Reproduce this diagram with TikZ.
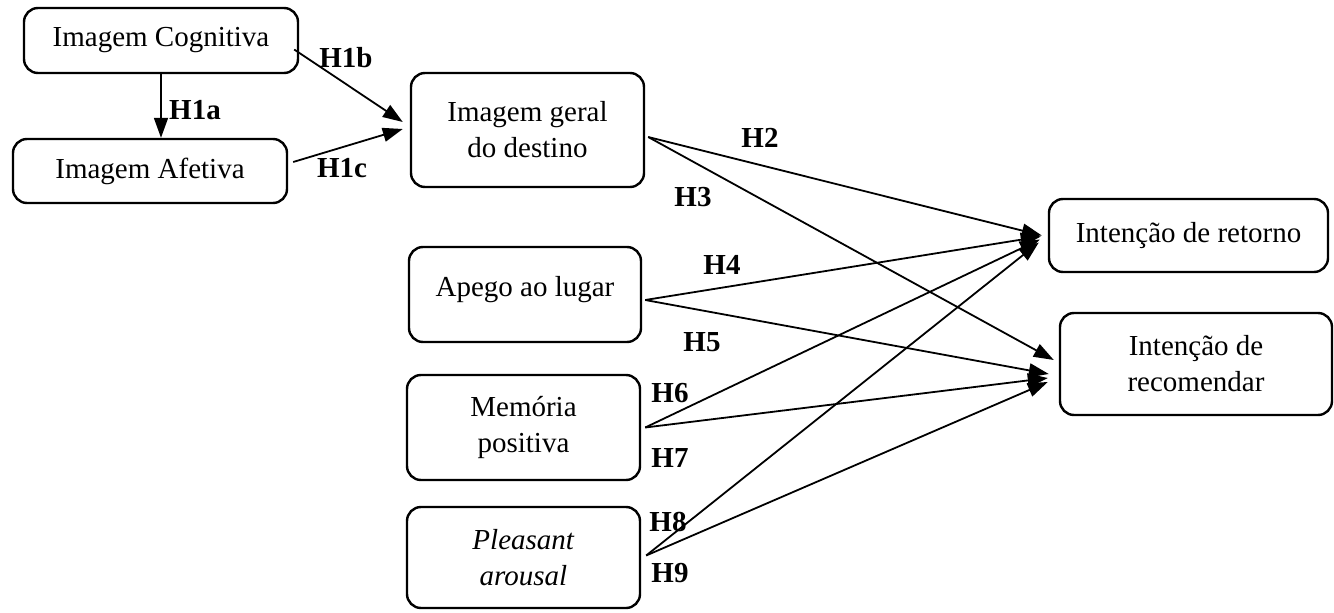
\documentclass[tikz,border=0pt]{standalone}
\usepackage{fontspec}
\setmainfont{Liberation Serif}
\usepackage{tikz}
\usetikzlibrary{positioning, arrows.meta}
\newcommand{\diagfont}{\fontsize{29}{36}\selectfont}
\tikzset{
  box/.style={rectangle, draw, rounded corners=14pt, line width=2.4pt, align=center, inner sep=0pt, font=\diagfont},
  hyp/.style={font=\diagfont\bfseries}
}

\begin{document}
\begin{tikzpicture}[x=1pt, y=-1pt, line width=1.8pt, >={Triangle[length=20pt,width=14pt]}]
    \useasboundingbox (0,0) rectangle (1334,613);
    % boxes
    \node (cognitiva)  at (161,40.5)   [box, minimum width=274pt, minimum height=65pt]  {Imagem Cognitiva};
    \node (afetiva)    at (150,171)    [box, minimum width=274pt, minimum height=64pt]  {Imagem Afetiva};
    \node (geral)      at (527.5,130)  [box, minimum width=233pt, minimum height=114pt] {Imagem geral\\do destino};
    \node (apego)      at (525,294.5)  [box, minimum width=232pt, minimum height=95pt, text depth=16pt] {Apego ao lugar};
    \node (memoria)    at (523.5,427.5)[box, minimum width=233pt, minimum height=105pt] {Memória\\positiva};
    \node (pleasant)   at (523.5,557.5)[box, minimum width=233pt, minimum height=101pt] {\textit{Pleasant}\\\textit{arousal}};
    \node (retorno)    at (1188.5,235.5)[box, minimum width=279pt, minimum height=73pt] {Intenção de retorno};
    \node (recomendar) at (1196,364)   [box, minimum width=272pt, minimum height=102pt] {Intenção de\\recomendar};
    % arrows
    \coordinate (geralout)    at ([shift={(3,7)}]geral.east);
    \coordinate (apegoout)    at ([shift={(3,5.5)}]apego.east);
    \coordinate (memoriaout)  at ([shift={(4,0)}]memoria.east);
    \coordinate (pleasantout) at ([shift={(5,-2)}]pleasant.east);
    \draw[->] (cognitiva.south) -- (cognitiva.south |- afetiva.north);
    \draw[->] ([shift={(-5,9)}]cognitiva.east) -- ([shift={(-7,-8)}]geral.west);
    \draw[->] ([shift={(5,-9)}]afetiva.east) -- ([shift={(-7,-1)}]geral.west);
    \draw[->] (geralout) -- ([shift={(-6,0)}]retorno.west);
    \draw[->] (geralout) -- ([shift={(-5,-4)}]recomendar.west);
    \draw[->] (apegoout) -- ([shift={(-7,1)}]retorno.west);
    \draw[->] (apegoout) -- ([shift={(-10,10)}]recomendar.west);
    \draw[->] (memoriaout) -- ([shift={(-8,4)}]retorno.west);
    \draw[->] (memoriaout) -- ([shift={(-11,14)}]recomendar.west);
    \draw[->] (pleasantout) -- ([shift={(-9,7)}]retorno.west);
    \draw[->] (pleasantout) -- ([shift={(-11,18)}]recomendar.west);
    % hypotheses
    \node (h1a) at (195,110) [hyp] {H1a};
    \node (h1b) at (346,58)  [hyp] {H1b};
    \node (h1c) at (342,168) [hyp] {H1c};
    \node (h2)  at (760,138) [hyp] {H2};
    \node (h3)  at (693,197) [hyp] {H3};
    \node (h4)  at (722,265) [hyp] {H4};
    \node (h5)  at (702,342) [hyp] {H5};
    \node (h6)  at (670,393) [hyp] {H6};
    \node (h7)  at (670,458) [hyp] {H7};
    \node (h8)  at (668,522) [hyp] {H8};
    \node (h9)  at (670,573) [hyp] {H9};
\end{tikzpicture}
\end{document}
